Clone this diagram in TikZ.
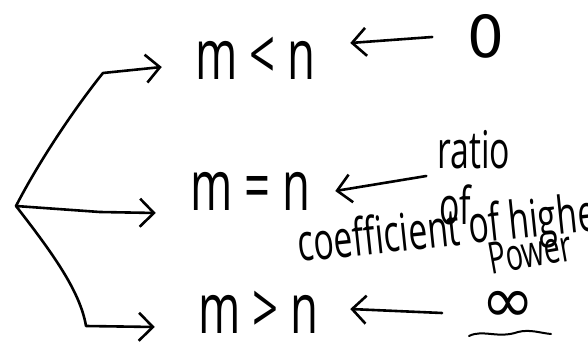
\documentclass[tikz,border=0pt]{standalone}
\usepackage{fontspec}
\newfontfamily\handfont[FakeStretch=0.65]{Open Sans}
\newfontfamily\symbfont{DejaVu Sans}
\usetikzlibrary{arrows.meta}

\begin{document}
\begin{tikzpicture}[x=1pt, y=-1pt, line width=2.6pt, line cap=round, line join=round,
	>={Straight Barb[length=14pt, width=28pt]},
	every node/.style={inner sep=0pt},
	rel/.style={font=\handfont\fontsize{70}{70}\selectfont},
	note/.style={font=\handfont\fontsize{52}{52}\selectfont},
	sym/.style={font=\symbfont\fontsize{#1}{#1}\selectfont},
	branch/.style={->},
	val/.style={->}]
	\useasboundingbox (0,0) rectangle (588,342);
	\clip (0,0) rectangle (588,342);
	% relations between the degrees
	\node[rel] (lt) at (255,58) {m < n};
	\node[rel] (eq) at (250,191) {m = n};
	\node[rel] (gt) at (258,312) {m > n};
	% values of the limit
	\node[sym=58] (zero) at (486,36) {0};
	\node[note] (ratio) at (474,150) {ratio};
	\node[note] (of) at (455,205) {of};
	\node[note, anchor=base west, rotate=6] (coef) at (298,262) {coefficient of highest};
	\node[note, font=\handfont\fontsize{44}{44}\selectfont, rotate=10] (power) at (530,252) {Power};
	\node[sym=64] (infty) at (508,307) {∞};
	\draw[line width=2pt] ([shift={(-39,29)}]infty.center) .. controls ([shift={(-25,22)}]infty.center) and ([shift={(-10,32)}]infty.center) .. ([shift={(10,25)}]infty.center) .. controls ([shift={(22,22)}]infty.center) and ([shift={(32,26)}]infty.center) .. ([shift={(43,27)}]infty.center);
	% branches
	\coordinate (root) at (16,206);
	\draw[branch] (root) .. controls (45,150) and (85,95) .. (103,73) -- ([xshift=-32pt, yshift=-9pt]lt.west);
	\draw[branch] (root) -- (100,212) -- ([xshift=-33pt, yshift=-22pt]eq.west);
	\draw[branch] (root) .. controls (50,250) and (80,290) .. (86,326) -- ([xshift=-42pt, yshift=-15pt]gt.west);
	% arrows into the cases
	\draw[val] ([xshift=-34pt, yshift=-1pt]zero.west) -- ([xshift=34pt, yshift=15pt]lt.east);
	\draw[val] ([xshift=-10pt, yshift=-26pt]ratio.west) -- ([xshift=24pt]eq.east);
	\draw[val] ([xshift=-38pt, yshift=-6pt]infty.west) -- ([xshift=31pt, yshift=3pt]gt.east);
\end{tikzpicture}
\end{document}
